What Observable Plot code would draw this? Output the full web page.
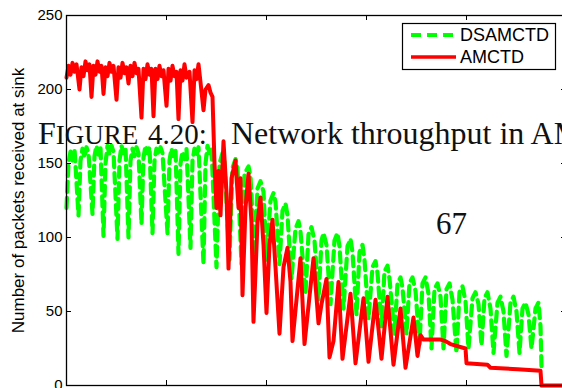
<!DOCTYPE html>
<html><head><meta charset="utf-8">
<script src="https://cdn.jsdelivr.net/npm/d3@7"></script>
<script src="https://cdn.jsdelivr.net/npm/@observablehq/plot@0.6"></script>
<style>
html,body{margin:0;padding:0;background:#fff;overflow:hidden;}
#wrap{position:relative;width:562px;height:388px;overflow:hidden;background:#fff;}
#wrap svg.overlay{position:absolute;left:0;top:0;pointer-events:none;}
</style></head><body><div id="wrap"></div>
<script>
// tick values
const xTicks = [100, 200, 300, 400];
const yTicks = [0, 50, 100, 150, 200, 250];
const seriesNames = ["DSAMCTD", "AMCTD"];
const seriesColors = ["#00ff00", "#ff0000"];
const yLabel = "Number of packets received at sink";

// DSAMCTD (green dashed)
const dsX = [0,2,4,6,8,12,14,16,18,20,22,26,28,30,32,34,37,39,41,43,45,47,51,53,55,57,59,62,64,66,68,70,72,75,77,79,81,83,86,88,90,92,94,96,101,103,105,107,109,112,114,116,118,120,124,126,128,130,132,137,139,141,143,145,
  150,153,156,158,163,166,169,171,175,178,182,184,188,191,194,197,200,204,207,209,213,216,219,221,225,229,232,234,239,242,245,248,252,255,257,260,264,268,271,273,277,281,284,286,290,293,296,298,302,306,309,311,315,318,321,323,328,331,334,336,340,343,346,349,353,356,359,362,365,368,371,374,377,380,383,386,390,393,396,399,402,406,409,412,415,418,421,424,427,431,434,437,440,444,447,450,453,456,459,462,465,469,472,474,475];
const dsY = [120,150,158,152,160,115,152,160,154,161,157,116,155,162,156,161,101,150,162,156,162,158,99,152,162,157,161,100,152,160,155,161,157,109,154,162,157,161,103,152,160,156,161,157,103,152,160,155,160,89,150,158,153,160,93,152,160,155,161,82,150,162,157,160,
  80,150,157,151,85,147,153,147,82,143,148,141,88,133,138,131,85,125,130,124,82,118,123,115,72,106,111,104,62,102,107,98,58,98,103,95,55,98,103,94,52,94,99,90,48,90,95,85,45,80,84,76,40,77,81,72,35,69,73,66,35,69,73,64,28,69,73,62,25,65,69,60,25,65,69,58,22,63,67,57,25,59,63,55,27,59,63,52,22,56,60,50,20,56,60,50,22,52,56,48,25,52,56,40,13];

// AMCTD (red solid)
const amX = [0,2,4,6,8,10,13,15,17,19,21,23,25,27,29,31,33,35,37,39,41,43,45,47,50,52,54,56,58,60,62,64,66,68,70,72,75,77,79,81,83,85,87,89,91,93,95,97,100,102,104,106,108,110,112,114,116,118,120,123,126,128,130,132,134,137,139,142,144,146,
  148,150,152,154,157,160,162,165,169,172,174,176,179,182,185,187,191,194,197,200,203,206,209,213,217,221,224,226,234,238,247,252,255,260,263,267,272,276,284,289,297,302,309,315,321,327,334,339,347,351,354,357,374,379,384,399,400,421,424,451,474,475,500];
const amY = [208,216,210,218,212,217,200,215,209,219,213,217,195,216,210,219,212,216,197,215,209,218,212,216,193,215,208,218,211,215,204,216,209,218,211,214,181,214,207,217,210,214,182,214,207,216,209,213,189,214,206,216,209,212,180,213,206,217,208,212,178,213,207,217,205,186,200,203,198,195,
  150,120,145,115,165,130,79,140,152,120,140,61,120,143,110,43,110,127,95,49,95,112,80,35,80,93,70,30,86,28,86,42,55,72,19,30,70,18,62,15,59,16,58,18,60,14,52,12,46,20,34,31,31,30,28,25,15,14,12,11,10,0,0];

const ds = dsX.map((x, i) => ({x, y: dsY[i]}));
const am = amX.map((x, i) => ({x, y: amY[i]}));

const chart = Plot.plot({
  width: 570, height: 388,
  marginLeft: 66, marginRight: 4, marginTop: 15, marginBottom: 3,
  style: {maxWidth: "none", background: "white", fontFamily: "'Liberation Sans', Arial, sans-serif", color: "black"},
  x: {domain: [0, 500], axis: null},
  y: {domain: [0, 250], axis: null},
  marks: [
    Plot.line(ds, {x: "x", y: "y", stroke: seriesColors[0], strokeWidth: 4.2, strokeDasharray: "10,6", strokeLinejoin: "round"}),
    Plot.line(am, {x: "x", y: "y", stroke: seriesColors[1], strokeWidth: 4, strokeLinejoin: "round"}),
    Plot.frame({stroke: "black", strokeWidth: 1.3}),
    Plot.tickY(yTicks, {y: d => d, insetRight: 495, stroke: "black"}),
    Plot.tickY(yTicks, {y: d => d, insetLeft: 495, stroke: "black"}),
    Plot.tickX(xTicks, {x: d => d, insetBottom: 365, stroke: "black"}),
    Plot.tickX(xTicks, {x: d => d, insetTop: 365, stroke: "black"}),
    Plot.axisY(yTicks, {tickSize: 0, tickPadding: 4, fontSize: 15, label: null}),
    Plot.text([yLabel], {text: d => d, frameAnchor: "left", textAnchor: "middle", rotate: -90, dx: -48, fontSize: 17, fill: "black"})
  ]
});
document.getElementById("wrap").appendChild(chart);

// overlay: legend + bleed-through page text
const ov = d3.select("#wrap").append("svg").attr("class", "overlay").attr("width", 562).attr("height", 388);
const lg = ov.append("g");
lg.append("rect").attr("x", 402.5).attr("y", 23.5).attr("width", 153).attr("height", 46).attr("fill", "white").attr("stroke", "black").attr("stroke-width", 1.2);
seriesNames.forEach((name, i) => {
  const cy = 35 + i * 22;
  lg.append("line").attr("x1", 411).attr("x2", 456).attr("y1", cy).attr("y2", cy)
    .attr("stroke", seriesColors[i]).attr("stroke-width", i === 0 ? 4 : 3.5)
    .attr("stroke-dasharray", i === 0 ? "10,6" : null);
  lg.append("text").attr("x", 460).attr("y", cy).attr("dy", "0.36em")
    .attr("font-family", "'Liberation Sans', Arial, sans-serif").attr("font-size", 18).attr("fill", "black").text(name);
});
const serif = "'Liberation Serif', 'Times New Roman', serif";
const cap = ov.append("text").attr("x", 38).attr("y", 144).attr("font-family", serif).attr("font-size", 32).attr("fill", "#111");
cap.append("tspan").text("F");
cap.append("tspan").attr("font-size", 27).text("IGURE");
ov.append("text").attr("x", 148).attr("y", 144).attr("font-family", serif).attr("font-size", 29).attr("fill", "#111").text("4.20:");
ov.append("text").attr("x", 231).attr("y", 144).attr("font-family", serif).attr("font-size", 32).attr("fill", "#111").text("Network throughput in AMCTD");
ov.append("text").attr("x", 436).attr("y", 234).attr("font-family", serif).attr("font-size", 31).attr("fill", "#111").text("67");
</script>
</body></html>
